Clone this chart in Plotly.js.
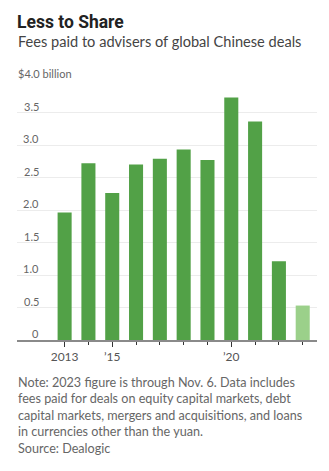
<!DOCTYPE html>
<html>
<head>
<meta charset="utf-8">
<script src="https://cdn.plot.ly/plotly-3.0.1.min.js"></script>
<style>html,body{margin:0;padding:0;background:#fff;}#chart{width:329px;height:471px;}</style>
</head>
<body>
<div id="chart"></div>
<script>
// Data
const years = [2013, 2014, 2015, 2016, 2017, 2018, 2019, 2020, 2021, 2022, 2023];
const fees = [1.96, 2.72, 2.26, 2.70, 2.79, 2.93, 2.77, 3.73, 3.36, 1.21, 0.53];
const barColors = ['#52a147','#52a147','#52a147','#52a147','#52a147','#52a147','#52a147','#52a147','#52a147','#52a147','#9bd08a'];
const yTickVals = [0, 0.5, 1.0, 1.5, 2.0, 2.5, 3.0, 3.5];
const yTickText = ['0', '0.5', '1.0', '1.5', '2.0', '2.5', '3.0', '3.5'];
const yTopVal = 4.0;
const yTopText = '$4.0 billion';
const xTickVals = [2013, 2015, 2020];
const xTickText = ['2013', "\u201915", "\u201920"];
const titleText = 'Less to Share';
const subtitleText = 'Fees paid to advisers of global Chinese deals';
const noteText = 'Note: 2023 figure is through Nov. 6. Data includes<br>fees paid for deals on equity capital markets, debt<br>capital markets, mergers and acquisitions, and loans<br>in currencies other than the yuan.<br>Source: Dealogic';

const FONT = 'Lato, "Open Sans", sans-serif';
const TFONT = 'Roboto, "Open Sans", sans-serif';
const W = 329, H = 471;
const mT = 80, mB = 131, mL = 17, mR = 12;
const plotH = H - mT - mB;
function py(px) { return (H - mB - px) / plotH; } // pixel y -> paper y
function pxX(px) { return (px - mL) / (W - mL - mR); }

const annotations = [];
yTickVals.forEach((v, i) => {
  annotations.push({
    xref: 'paper', yref: 'y', x: pxX(40), y: v, xanchor: 'right', yanchor: 'bottom',
    text: yTickText[i], showarrow: false, font: {family: FONT, size: 11, color: '#666'}, borderpad: 0, yshift: -1
  });
});
annotations.push({
  xref: 'paper', yref: 'y', x: 0, y: yTopVal, xanchor: 'left', yanchor: 'bottom',
  text: yTopText, showarrow: false, font: {family: FONT, size: 11, color: '#666'}, borderpad: 0, yshift: -1
});
annotations.push({
  xref: 'paper', yref: 'paper', x: pxX(16), y: py(11), xanchor: 'left', yanchor: 'top',
  text: '<b>' + titleText + '</b>', showarrow: false, font: {family: TFONT, size: 17.5, color: '#222'}, borderpad: 0
});
annotations.push({
  xref: 'paper', yref: 'paper', x: pxX(17), y: py(32), xanchor: 'left', yanchor: 'top',
  text: subtitleText, showarrow: false, font: {family: FONT, size: 14.6, color: '#444'}, borderpad: 0
});
annotations.push({
  xref: 'paper', yref: 'paper', x: pxX(17), y: py(374), xanchor: 'left', yanchor: 'top', align: 'left',
  text: noteText, showarrow: false, font: {family: FONT, size: 12.6, color: '#666'}, borderpad: 0
});

const trace = {
  type: 'bar', x: years, y: fees, marker: {color: barColors, line: {width: 0}},
  hoverinfo: 'none'
};

const layout = {
  width: W, height: H,
  margin: {t: mT, b: mB, l: mL, r: mR, pad: 0},
  paper_bgcolor: '#fff', plot_bgcolor: '#fff',
  bargap: 0.41,
  showlegend: false,
  font: {family: FONT, color: '#666'},
  xaxis: {
    range: [2011.0, 2023.6], tickmode: 'array', tickvals: xTickVals, ticktext: xTickText,
    ticks: 'outside', ticklen: 5, tickcolor: '#333', tickwidth: 1,
    minor: {tickmode: 'array', tickvals: years, ticks: 'outside', ticklen: 3, tickcolor: '#333', tickwidth: 1},
    showline: true, linecolor: '#8a8a8a', linewidth: 2,
    showgrid: false, zeroline: false,
    tickfont: {family: FONT, size: 12, color: '#555'}, fixedrange: true
  },
  yaxis: {
    range: [0, yTopVal], tickmode: 'array', tickvals: yTickVals.concat([yTopVal]),
    showticklabels: false, ticks: '', showgrid: true, gridcolor: '#ececec', gridwidth: 1,
    zeroline: false, fixedrange: true
  },
  annotations: annotations
};

Plotly.newPlot('chart', [trace], layout, {staticPlot: true, displayModeBar: false});
</script>
</body>
</html>
